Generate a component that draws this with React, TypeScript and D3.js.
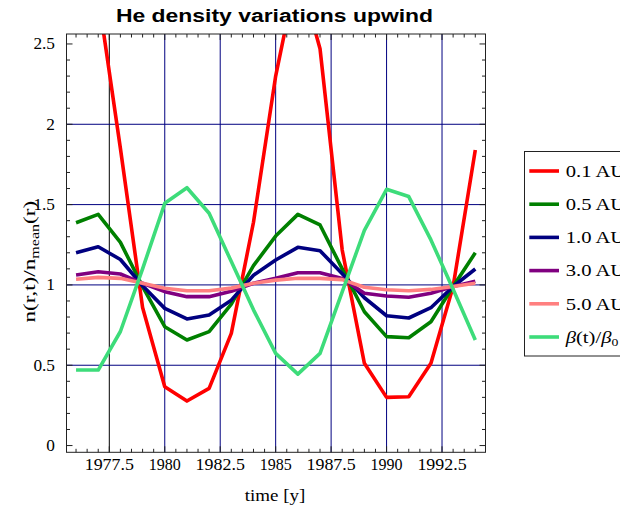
import React from "react";
import * as d3 from "d3";

const years = [1976, 1977, 1978, 1979, 1980, 1981, 1982, 1983, 1984, 1985, 1986, 1987, 1988, 1989, 1990, 1991, 1992, 1993, 1994];
const au01 = [2.7, 2.8, 1.85, 0.86, 0.366, 0.277, 0.356, 0.698, 1.39, 2.3, 2.97, 2.47, 1.217, 0.512, 0.3, 0.304, 0.512, 0.99, 1.84];
const au05 = [1.387, 1.439, 1.265, 0.99, 0.74, 0.657, 0.709, 0.88, 1.12, 1.304, 1.439, 1.373, 1.1, 0.833, 0.678, 0.671, 0.771, 0.99, 1.2];
const au10 = [1.2, 1.238, 1.158, 0.995, 0.854, 0.788, 0.813, 0.905, 1.06, 1.155, 1.234, 1.213, 1.07, 0.92, 0.808, 0.794, 0.858, 0.99, 1.099];
const au30 = [1.062, 1.082, 1.068, 1.01, 0.958, 0.927, 0.927, 0.96, 1.01, 1.041, 1.076, 1.076, 1.04, 0.948, 0.931, 0.923, 0.948, 0.99, 1.023];
const au50 = [1.035, 1.047, 1.041, 1.01, 0.979, 0.964, 0.964, 0.98, 1.01, 1.03, 1.041, 1.041, 1.033, 0.985, 0.97, 0.964, 0.972, 0.99, 1.01];
const beta = [0.47, 0.47, 0.71, 1.1, 1.508, 1.605, 1.446, 1.145, 0.845, 0.574, 0.445, 0.574, 0.956, 1.34, 1.595, 1.55, 1.28, 0.973, 0.657];

const seriesNames = ["0.1 AU", "0.5 AU", "1.0 AU", "3.0 AU", "5.0 AU", "beta"];
const seriesData = [au01, au05, au10, au30, au50, beta];
const seriesColors = ["#ff0000", "#008000", "#000080", "#800080", "#ff8080", "#3ddc7a"];

const xTicks = [1977.5, 1980, 1982.5, 1985, 1987.5, 1990, 1992.5];
const xTickLabels = ["1977.5", "1980", "1982.5", "1985", "1987.5", "1990", "1992.5"];
const yTicks = [0, 0.5, 1, 1.5, 2, 2.5];
const yTickLabels = ["0", "0.5", "1", "1.5", "2", "2.5"];
const yGrid = [0.5, 1, 1.5, 2];

const L = 66.5, R = 485.5, T = 34, B = 452.3;
const serif = "'Liberation Serif', 'Times New Roman', serif";
const sans = "'Liberation Sans', Arial, sans-serif";

export default function App() {
  const x = d3.scaleLinear().domain([1975.57, 1994.46]).range([L, R]);
  const y = d3.scaleLinear().domain([-0.042, 2.562]).range([B, T]);
  const line = d3.line<number>().x((_, i) => x(years[i])).y((d) => y(d));

  const xMinor = d3.range(1975.5, 1994.51, 0.5).filter((v) => x(v) >= L && x(v) <= R);
  const yMinor = d3.range(0, 2.56, 0.1);

  const legY0 = 171, legDy = 33.2;

  return (
    <svg width={620} height={512} style={{ position: "absolute", left: 0, top: 0, background: "#fff" }}>
      <defs>
        <clipPath id="plotclip">
          <rect x={L} y={T} width={R - L} height={B - T} />
        </clipPath>
      </defs>
      <rect x={0} y={0} width={620} height={512} fill="#fff" />
      {/* title */}
      <g transform="translate(274.5,22) scale(1.24,1)">
        <text x={0} y={0} textAnchor="middle" fontFamily={sans} fontWeight="bold" fontSize={18.5}>
          He density variations upwind
        </text>
      </g>
      {/* grid */}
      {xTicks.map((v, i) => (
        <line key={"gx" + i} x1={x(v)} x2={x(v)} y1={T} y2={B} stroke={i === 0 ? "#000" : "#000080"} strokeWidth={1} />
      ))}
      {yGrid.map((v, i) => (
        <line key={"gy" + i} x1={L} x2={R} y1={y(v)} y2={y(v)} stroke="#000080" strokeWidth={1} />
      ))}
      {/* data */}
      <g clipPath="url(#plotclip)">
        {seriesData.map((s, i) => (
          <path key={"s" + i} d={line(s) || ""} fill="none" stroke={seriesColors[i]} strokeWidth={3.6} strokeLinejoin="round" />
        ))}
      </g>
      {/* frame */}
      <rect x={L} y={T} width={R - L} height={B - T} fill="none" stroke="#222" strokeWidth={1} />
      {/* ticks */}
      {xMinor.map((v, i) => {
        const major = xTicks.some((t) => Math.abs(t - v) < 1e-6);
        const len = major ? 6 : 3.5;
        return (
          <g key={"xt" + i}>
            <line x1={x(v)} x2={x(v)} y1={B} y2={B - len} stroke="#222" />
            <line x1={x(v)} x2={x(v)} y1={T} y2={T + len} stroke="#222" />
          </g>
        );
      })}
      {yMinor.map((v, i) => {
        const major = Math.abs(v * 2 - Math.round(v * 2)) < 1e-6;
        const len = major ? 6 : 3.5;
        return (
          <g key={"yt" + i}>
            <line x1={L} x2={L + len} y1={y(v)} y2={y(v)} stroke="#222" />
            <line x1={R} x2={R - len} y1={y(v)} y2={y(v)} stroke="#222" />
          </g>
        );
      })}
      {/* tick labels */}
      {xTicks.map((v, i) => (
        <g key={"xl" + i} transform={`translate(${x(v)},469.5) scale(${xTickLabels[i].length > 4 ? 1.12 : 1},1)`}>
          <text x={0} y={0} textAnchor="middle" fontFamily={serif} fontSize={16}>
            {xTickLabels[i]}
          </text>
        </g>
      ))}
      {yTicks.map((v, i) => (
        <g key={"yl" + i} transform={`translate(55,${y(v) + 5.5}) scale(1.08,1)`}>
          <text x={0} y={0} textAnchor="end" fontFamily={serif} fontSize={16}>
            {yTickLabels[i]}
          </text>
        </g>
      ))}
      {/* axis titles */}
      <g transform="translate(275,501) scale(1.15,1)">
        <text x={0} y={0} textAnchor="middle" fontFamily={serif} fontSize={16.5}>
          time [y]
        </text>
      </g>
      <g transform="translate(35,261.7) rotate(-90) scale(1.4,1)">
        <text x={0} y={0} textAnchor="middle" fontFamily={serif} fontSize={16.5}>
          n(r,t)/n<tspan fontSize={11.5} dy={4}>mean</tspan><tspan dy={-4}>(r)</tspan>
        </text>
      </g>
      {/* legend */}
      <rect x={524.5} y={151.5} width={110} height={204.5} fill="#fff" stroke="#222" strokeWidth={1} />
      {seriesNames.map((n, i) => {
        const ly = legY0 + i * legDy;
        return (
          <g key={"lg" + i}>
            <line x1={529.3} x2={559} y1={ly} y2={ly} stroke={seriesColors[i]} strokeWidth={3.6} />
            <g transform={`translate(565.7,${ly + 5.7}) scale(1.25,1)`}>
              {n === "beta" ? (
                <text x={0} y={0} fontFamily={serif} fontSize={16.5}>
                  <tspan fontStyle="italic">β</tspan>(t)/<tspan fontStyle="italic">β</tspan>
                  <tspan fontSize={11} dy={3}>0</tspan>
                </text>
              ) : (
                <text x={0} y={0} fontFamily={serif} fontSize={16.5}>
                  {n}
                </text>
              )}
            </g>
          </g>
        );
      })}
    </svg>
  );
}
